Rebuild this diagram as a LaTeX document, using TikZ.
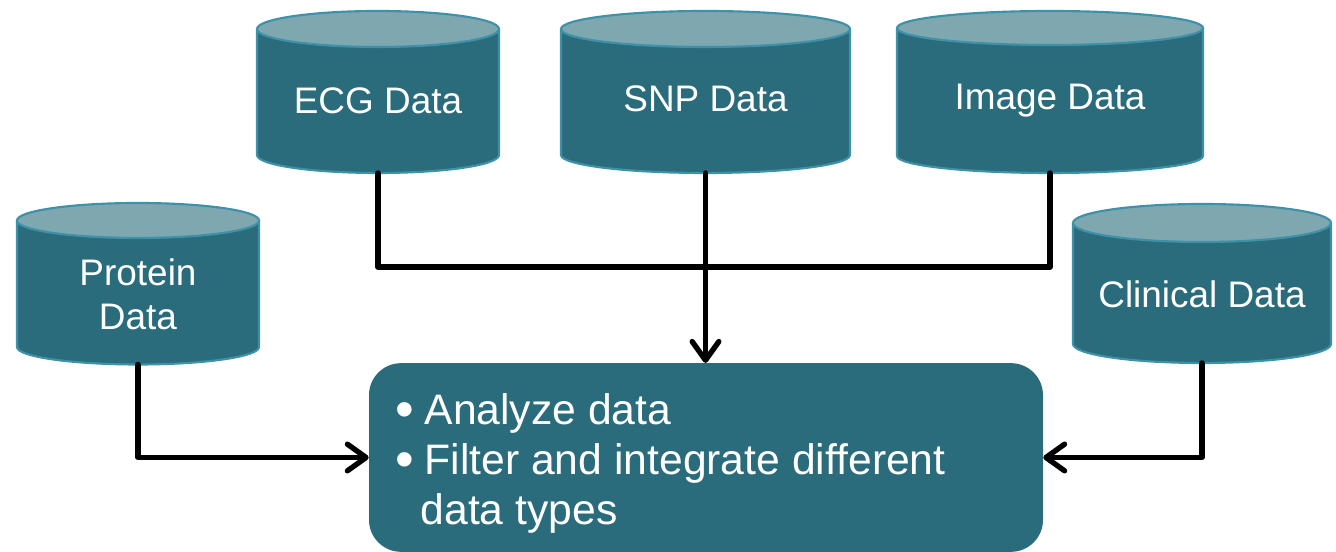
\documentclass[tikz,border=0pt]{standalone}
\usepackage{fontspec}
\setmainfont{Liberation Sans}
\usetikzlibrary{arrows.meta}
\definecolor{cbody}{HTML}{2A6C7B}
\definecolor{ctop}{HTML}{7FA7B0}
\definecolor{cline}{HTML}{3D91A9}
\newcommand{\dbcyl}[6]{% #1 cx, #2 rx, #3 top-centre y, #4 side-bottom y, #5 ry, #6 name of bottom point
  \path[cylbody] (#1-#2,#3) -- (#1-#2,#4) arc[start angle=180,end angle=360,x radius=#2,y radius=#5] -- (#1+#2,#3) -- cycle;
  \path[cyltop] (#1,#3) ellipse[x radius=#2,y radius=#5];
  \coordinate (#6) at (#1,#4-#5);
}
\newcommand{\bigbul}{\raisebox{-2pt}{\scalebox{1.25}{\textbullet}}}
\begin{document}
\begin{tikzpicture}[x=0.75pt,y=0.75pt,
  cylbody/.style={fill=cbody,draw=cline,line width=1.6pt,line join=round},
  cyltop/.style={fill=ctop,draw=cline,line width=1.6pt},
  cyllabel/.style={text=white,font=\fontsize{27.7pt}{33pt}\selectfont,align=center,inner sep=0pt},
  procbox/.style={fill=cbody,rounded corners=24pt,minimum width=505.5pt,minimum height=141.5pt,inner sep=0pt},
  proclabel/.style={text=white,font=\fontsize{32pt}{37.5pt}\selectfont,inner sep=0pt,anchor=base west},
  conn/.style={line width=4pt,line cap=round,line join=round},
  tip/.style={-{Straight Barb[length=14pt,width=20pt,round]}}]
\useasboundingbox (0,0) rectangle (1336,552);
% cylinders
\dbcyl{378}{121}{523}{397}{18}{ecgb}
\dbcyl{705.5}{144.5}{523}{397}{18}{snpb}
\dbcyl{1050}{153}{524}{396}{17}{imgb}
\dbcyl{138}{121}{331.5}{205}{17.5}{protb}
\dbcyl{1202}{129}{329}{208}{19}{clinb}
\node[cyllabel] (ecg) at (378,451) {ECG Data};
\node[cyllabel] (snp) at (705.5,453) {SNP Data};
\node[cyllabel] (img) at (1050,451) {Image Data};
\node[cyllabel] (prot) at (138,258) {Protein\\Data};
\node[cyllabel] (clin) at (1202,258) {Clinical Data};
% process box
\node[procbox] (proc) at (706,94.5) {};
\node[proclabel] (proctext) at (395,127) {\begin{tabular}[t]{@{}l@{\hspace{8pt}}l@{}}\bigbul & Analyze data\\ \bigbul & Filter and integrate different\\ & \hspace{-3pt}data types\end{tabular}};
% connectors
\coordinate (bus) at (0,285);
\draw[conn] (ecgb) -- (ecgb |- bus) -- (imgb |- bus) -- (imgb);
\draw[conn,tip] (snpb) -- (snpb |- proc.north);
\draw[conn,tip] (protb) |- (proc.west);
\draw[conn,tip] (clinb) |- (proc.east);
\end{tikzpicture}
\end{document}
